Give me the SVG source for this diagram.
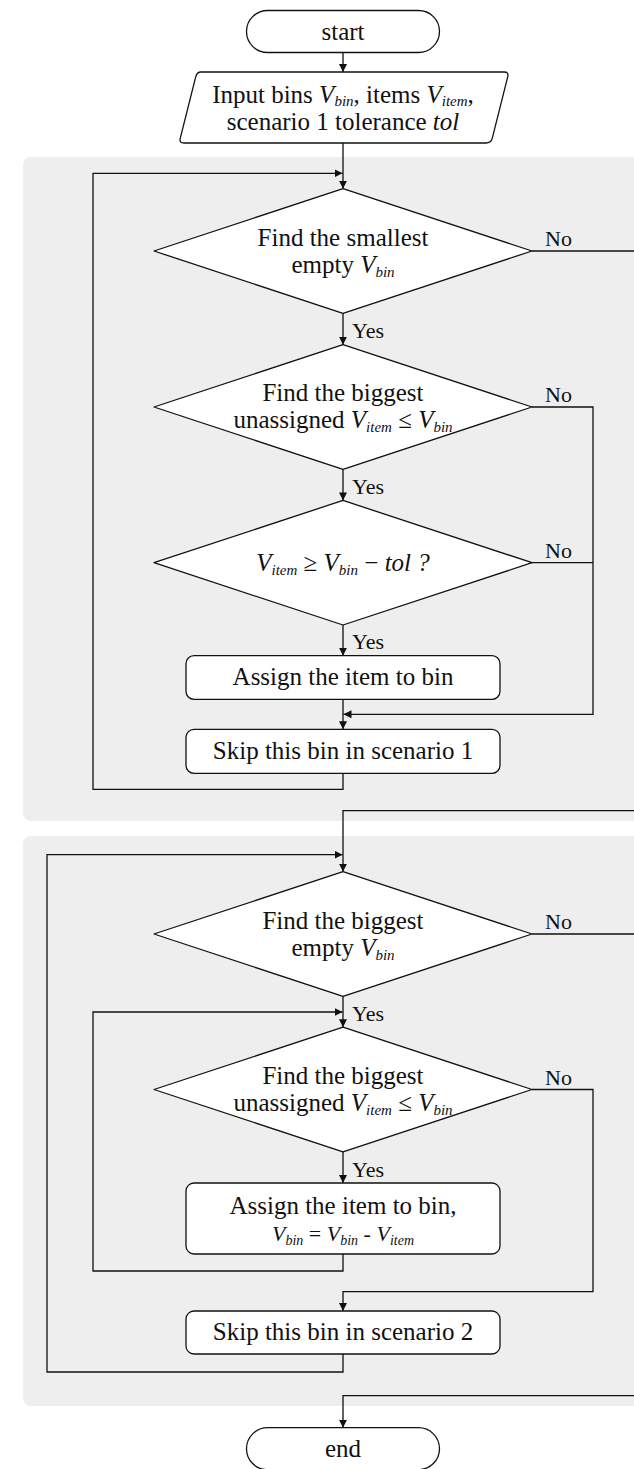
<svg xmlns="http://www.w3.org/2000/svg" width="634" height="1469" viewBox="0 0 634 1469">
<style>
.panel{fill:#eeeeee;stroke:none}
.shape{fill:#ffffff;stroke:#111111;stroke-width:1.3;stroke-linejoin:round}
.conn{fill:none;stroke:#111111;stroke-width:1.3}
text{font-family:"Liberation Serif","Times New Roman",serif;fill:#111111}
.t{font-size:25px;text-anchor:middle}
.lbl{font-size:22px}
.i{font-style:italic}
.sub{font-style:italic;font-size:15px}
</style>
<defs>
<marker id="arr" markerUnits="userSpaceOnUse" markerWidth="9" markerHeight="9" refX="8" refY="4" orient="auto">
<path d="M0,0 L8,4 L0,8 z" fill="#111111"/>
</marker>
</defs>
<rect class="panel" x="23" y="157" width="700" height="664" rx="8"/>
<rect class="panel" x="23" y="836" width="700" height="570" rx="8"/>
<g id="connectors">
<path class="conn" d="M343,52.5 V72" marker-end="url(#arr)"/>
<path class="conn" d="M343,143 V188.7" marker-end="url(#arr)"/>
<path class="conn" d="M343,313.3 V344.7" marker-end="url(#arr)"/>
<path class="conn" d="M343,469.3 V500.4" marker-end="url(#arr)"/>
<path class="conn" d="M343,625 V655.7" marker-end="url(#arr)"/>
<path class="conn" d="M343,699.3 V729.3" marker-end="url(#arr)"/>
<path class="conn" d="M343,773.3 V789.3 H93 V173.3 H342.5" marker-end="url(#arr)"/>
<path class="conn" d="M532,407 H593 V714.3 H343.5" marker-end="url(#arr)"/>
<path class="conn" d="M532,562.7 H593"/>
<path class="conn" d="M532,251 H650 V810.7 H343 V871.7" marker-end="url(#arr)"/>
<path class="conn" d="M343,996.3 V1027.2" marker-end="url(#arr)"/>
<path class="conn" d="M343,1354 V1372 H47 V854.7 H342.5" marker-end="url(#arr)"/>
<path class="conn" d="M343,1151.8 V1183" marker-end="url(#arr)"/>
<path class="conn" d="M343,1254 V1271 H93 V1012 H342.5" marker-end="url(#arr)"/>
<path class="conn" d="M532,1089.5 H593 V1291.7 H343 V1311" marker-end="url(#arr)"/>
<path class="conn" d="M532,934 H650 V1395.7 H343 V1427.7" marker-end="url(#arr)"/>
<text class="lbl" x="545" y="246">No</text>
<text class="lbl" x="545" y="402">No</text>
<text class="lbl" x="545" y="557.5">No</text>
<text class="lbl" x="545" y="929">No</text>
<text class="lbl" x="545" y="1084.5">No</text>
<text class="lbl" x="352" y="338">Yes</text>
<text class="lbl" x="352" y="493.5">Yes</text>
<text class="lbl" x="352" y="649">Yes</text>
<text class="lbl" x="352" y="1020.5">Yes</text>
<text class="lbl" x="352" y="1176.5">Yes</text>
</g>
<g id="start">
<rect class="shape" x="246.5" y="10.5" width="193" height="42" rx="21"/>
<text class="t" x="343" y="39.5">start</text>
</g>
<g id="input">
<path class="shape" d="M201,72 H504 Q509,72 507.7,76.8 L492.3,138.2 Q491,143 486,143 H184 Q179,143 180.3,138.2 L195.7,76.8 Q197,72 201,72 Z"/>
<text class="t" x="343" y="103">Input bins <tspan class="i">V</tspan><tspan class="sub" dy="3">bin</tspan><tspan dy="-3">, items </tspan><tspan class="i">V</tspan><tspan class="sub" dy="3">item</tspan><tspan dy="-3">,</tspan></text>
<text class="t" x="343" y="130">scenario 1 tolerance <tspan class="i">tol</tspan></text>
</g>
<g id="d1">
<polygon class="shape" points="343,188.7 532,251 343,313.3 154,251"/>
<text class="t" x="343" y="246">Find the smallest</text>
<text class="t" x="343" y="272.5">empty <tspan class="i">V</tspan><tspan class="sub" dy="4">bin</tspan></text>
</g>
<g id="d2">
<polygon class="shape" points="343,344.7 532,407 343,469.3 154,407"/>
<text class="t" x="343" y="401">Find the biggest</text>
<text class="t" x="343" y="427.5">unassigned <tspan class="i">V</tspan><tspan class="sub" dy="4">item</tspan><tspan dy="-4"> ≤ </tspan><tspan class="i">V</tspan><tspan class="sub" dy="4">bin</tspan></text>
</g>
<g id="d3">
<polygon class="shape" points="343,500.4 532,562.7 343,625 154,562.7"/>
<text class="t" x="343" y="571"><tspan class="i">V</tspan><tspan class="sub" dy="4">item</tspan><tspan dy="-4"> ≥ </tspan><tspan class="i">V</tspan><tspan class="sub" dy="4">bin</tspan><tspan dy="-4"> − </tspan><tspan class="i">tol ?</tspan></text>
</g>
<g id="assign1">
<rect class="shape" x="186" y="655.7" width="314" height="43.6" rx="8"/>
<text class="t" x="343" y="685">Assign the item to bin</text>
</g>
<g id="skip1">
<rect class="shape" x="186" y="729.3" width="314" height="44" rx="8"/>
<text class="t" x="343" y="758.5">Skip this bin in scenario 1</text>
</g>
<g id="d4">
<polygon class="shape" points="343,871.7 532,934 343,996.3 154,934"/>
<text class="t" x="343" y="928.5">Find the biggest</text>
<text class="t" x="343" y="955.5">empty <tspan class="i">V</tspan><tspan class="sub" dy="4">bin</tspan></text>
</g>
<g id="d5">
<polygon class="shape" points="343,1027.2 532,1089.5 343,1151.8 154,1089.5"/>
<text class="t" x="343" y="1083.5">Find the biggest</text>
<text class="t" x="343" y="1110.5">unassigned <tspan class="i">V</tspan><tspan class="sub" dy="4">item</tspan><tspan dy="-4"> ≤ </tspan><tspan class="i">V</tspan><tspan class="sub" dy="4">bin</tspan></text>
</g>
<g id="assign2">
<rect class="shape" x="186" y="1183" width="314" height="71" rx="8"/>
<text class="t" x="343" y="1213.5">Assign the item to bin,</text>
<text class="t" x="343" y="1240.5" style="font-size:22px"><tspan class="i">V</tspan><tspan class="sub" dy="4" style="font-size:14px">bin</tspan><tspan dy="-4"> = </tspan><tspan class="i">V</tspan><tspan class="sub" dy="4" style="font-size:14px">bin</tspan><tspan dy="-4"> - </tspan><tspan class="i">V</tspan><tspan class="sub" dy="4" style="font-size:14px">item</tspan></text>
</g>
<g id="skip2">
<rect class="shape" x="186" y="1311" width="314" height="43" rx="8"/>
<text class="t" x="343" y="1340">Skip this bin in scenario 2</text>
</g>
<g id="end">
<rect class="shape" x="246.5" y="1427.7" width="193" height="42" rx="21"/>
<text class="t" x="343" y="1456.5">end</text>
</g>
</svg>
